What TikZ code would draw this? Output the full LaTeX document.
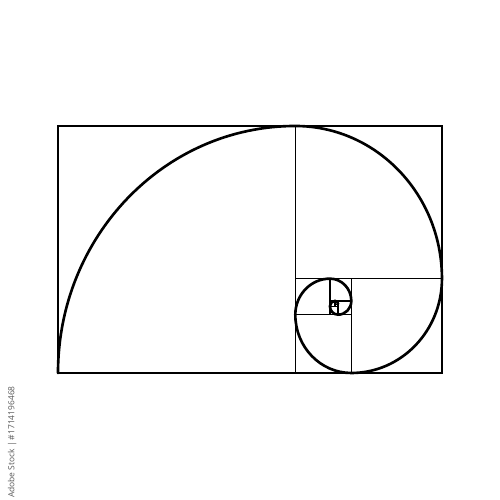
\documentclass[tikz,border=0pt]{standalone}
\usepackage{fontspec}
\setsansfont{Open Sans}
\begin{document}
\begin{tikzpicture}
\tikzset{frame/.style={line width=0.9pt,black},spiral/.style={line width=1.5pt,black,line cap=round}}
\useasboundingbox (0,0) rectangle (10,10);
\fill[white] (0,0) rectangle (10,10);
\node[rotate=90,anchor=east,text=black!65,font=\sffamily\fontsize{4.8}{6}\selectfont,inner sep=0pt] (wm) at (0.245,2.28) {Adobe Stock | \#1714196468};
\begin{scope}[shift={(1.16,2.54)},xscale=4.746,yscale=4.94]
\draw[frame] (0,0) rectangle (1.618034,1);
\draw[frame] (1,0) -- (1,1);
\draw[frame] (1,0.381966) -- (1.618034,0.381966);
\draw[frame] (1.236068,0) -- (1.236068,0.381966);
\draw[frame] (1,0.236068) -- (1.236068,0.236068);
\draw[frame] (1.145898,0.236068) -- (1.145898,0.381966);
\draw[frame] (1.145898,0.291796) -- (1.236068,0.291796);
\draw[frame] (1.180340,0.236068) -- (1.180340,0.291796);
\draw[frame,line width=0.7pt] (1.145898,0.270510) -- (1.180340,0.270510);
\draw[frame,line width=0.6pt] (1.167184,0.270510) -- (1.167184,0.291796);
\draw[frame,line width=0.5pt] (1.167184,0.278640) -- (1.180340,0.278640);
\draw[spiral] (0,0) arc[start angle=180,end angle=90,radius=1]
  arc[start angle=90,end angle=0,radius=0.618034]
  arc[start angle=0,end angle=-90,radius=0.381966]
  arc[start angle=270,end angle=180,radius=0.236068]
  arc[start angle=180,end angle=90,radius=0.145898]
  arc[start angle=90,end angle=0,radius=0.090170]
  arc[start angle=0,end angle=-90,radius=0.055728]
  arc[start angle=270,end angle=180,radius=0.034442]
  arc[start angle=180,end angle=90,radius=0.021286]
  arc[start angle=90,end angle=0,radius=0.013156];
\end{scope}
\end{tikzpicture}
\end{document}
